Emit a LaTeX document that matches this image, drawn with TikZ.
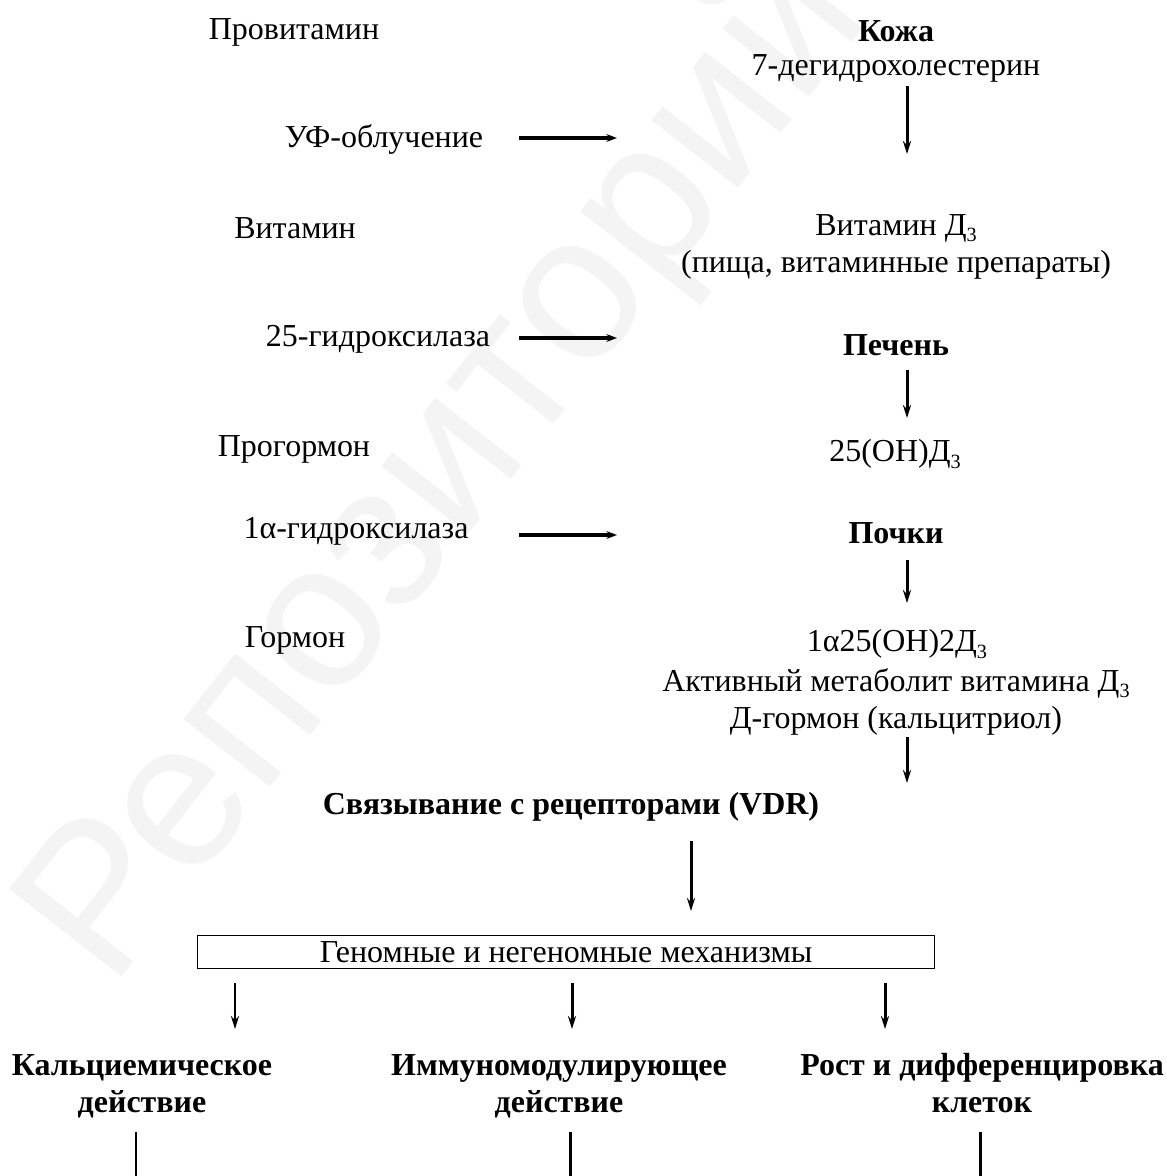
\documentclass[tikz,border=0pt]{standalone}
\usepackage{fontspec}
\setmainfont{Liberation Serif}
\setsansfont{Liberation Sans}
\usetikzlibrary{arrows.meta}
\tikzset{
  txt/.style={font=\fontsize{18.2}{21}\selectfont, inner sep=1pt},
  btxt/.style={font=\fontsize{18.2}{21}\selectfont\bfseries, inner sep=1pt, align=center},
  arr/.style={line width=1.7pt, -{Stealth[length=7.4pt, width=4.6pt]}},
  harr/.style={line width=2pt, -{Stealth[length=6pt, width=4.4pt]}},
}
\newcommand{\Dthree}{Д\raisebox{-0.45ex}{\fontsize{11.5}{11.5}\selectfont 3}}

\begin{document}
\begin{tikzpicture}[x=0.02cm, y=-0.02cm]
            \useasboundingbox (0,0) rectangle (1166,1176);
            % watermark
            \node[rotate=52, text=gray!9, font=\fontsize{118}{118}\sffamily] (wm) at (448,470) {Репозиторий};
            % left column
            \node[txt] (provit) at (294,32) {Провитамин};
            \node[txt] (uv) at (384,140) {УФ-облучение};
            \node[txt] (vit) at (295,228) {Витамин};
            \node[txt] (hydr25) at (378,339) {25-гидроксилаза};
            \node[txt] (prohorm) at (294,449) {Прогормон};
            \node[txt] (hydr1a) at (356,531) {1α-гидроксилаза};
            \node[txt] (horm) at (295,640) {Гормон};
            % right column
            \node[btxt] (skin) at (896,31) {Кожа};
            \node[txt] (dehydro) at (896,68) {7-дегидрохолестерин};
            \node[txt] (vitD) at (896,228) {Витамин \Dthree};
            \node[txt] (food) at (896,265) {(пища, витаминные препараты)};
            \node[btxt] (liver) at (896,345) {Печень};
            \node[txt] (ohD) at (895,454) {25(OH)\Dthree};
            \node[btxt] (kidney) at (896,533) {Почки};
            \node[txt] (calcitr) at (897,644) {1α25(OH)2\Dthree};
            \node[txt] (active) at (896,683) {Активный метаболит витамина \Dthree};
            \node[txt] (dhorm) at (896,721) {Д-гормон (кальцитриол)};
            % receptors and box
            \node[btxt] (vdr) at (571,807) {Связывание с рецепторами (VDR)};
            \node[txt, draw, line width=1pt, minimum width=14.74cm, minimum height=0.66cm] (mech) at (566,952) {Геномные и негеномные механизмы};
            \node[btxt, anchor=base] (calc) at (142,1112) {Кальциемическое\\действие};
            \node[btxt, anchor=base] (immun) at (559,1112) {Иммуномодулирующее\\действие};
            \node[btxt, anchor=base] (growth) at (982,1112) {Рост и дифференцировка\\клеток};
            % arrow ends
            \coordinate (a1s) at (519,138);  \coordinate (a1e) at (617,138);
            \coordinate (a2s) at (519,338);  \coordinate (a2e) at (617,338);
            \coordinate (a3s) at (519,535);  \coordinate (a3e) at (617,535);
            \coordinate (d1s) at (907,86);   \coordinate (d1e) at (907,154);
            \coordinate (d2s) at (907,370);  \coordinate (d2e) at (907,418);
            \coordinate (d3s) at (907,560);  \coordinate (d3e) at (907,603);
            \coordinate (d4s) at (907,737);  \coordinate (d4e) at (907,783);
            \coordinate (d5s) at (691,841);  \coordinate (d5e) at (691,911);
            \draw[harr] (a1s) -- (a1e);
            \draw[harr] (a2s) -- (a2e);
            \draw[harr] (a3s) -- (a3e);
            \draw[arr] (d1s) -- (d1e);
            \draw[arr] (d2s) -- (d2e);
            \draw[arr] (d3s) -- (d3e);
            \draw[arr] (d4s) -- (d4e);
            \draw[arr] (d5s) -- (d5e);
            % branches
            \foreach \bx/\lx/\nd in {235/136/calc, 572/570/immun, 885/980/growth}{
              \coordinate (b\nd) at (\bx,983);
              \draw[arr] (b\nd) -- (\bx,1029);
              \coordinate (t\nd) at (\lx,1132);
              \draw[arr] (t\nd) -- (\lx,1190);
            }
        \end{tikzpicture}
\end{document}
